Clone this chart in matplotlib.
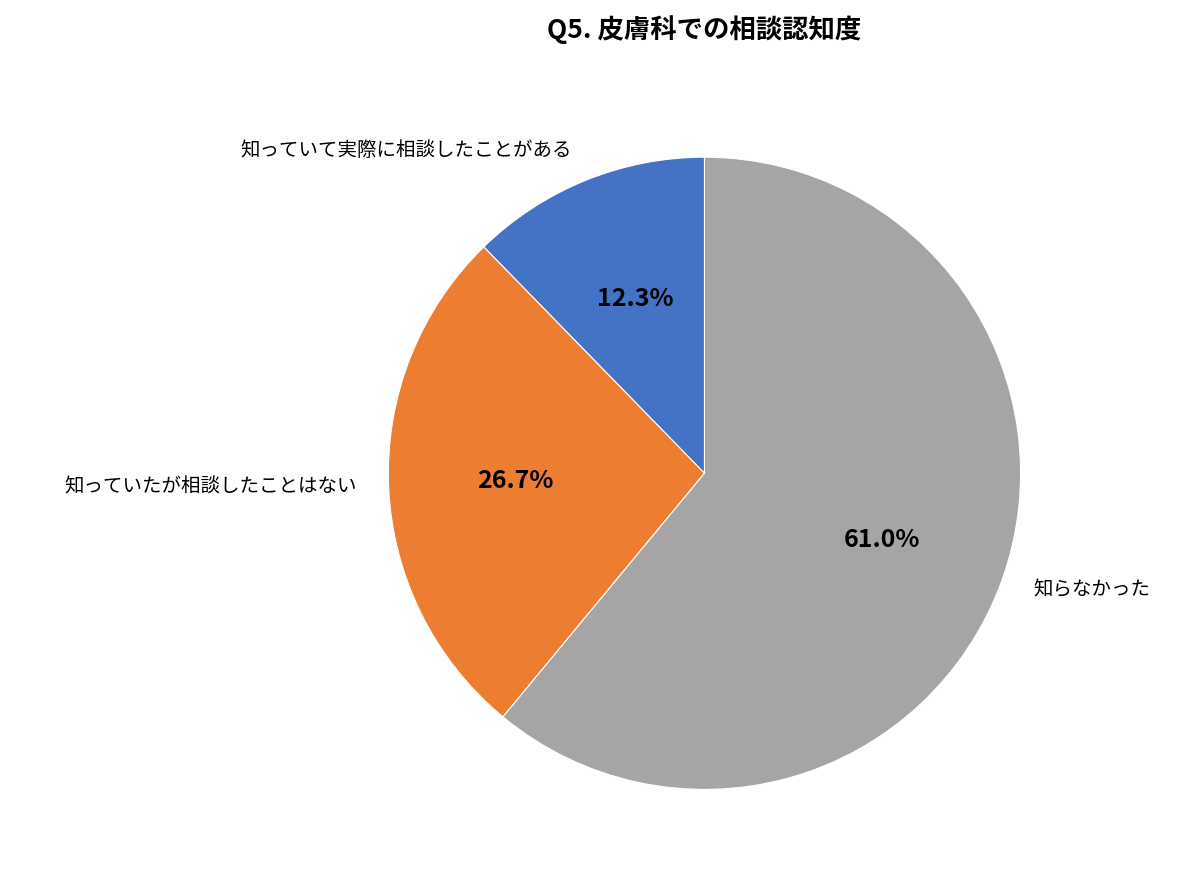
import matplotlib
matplotlib.use("Agg")
import matplotlib.pyplot as plt

plt.rcParams['font.family'] = ['Noto Sans CJK JP', 'DejaVu Sans']

labels = ["知っていて実際に相談したことがある", "知っていたが相談したことはない", "知らなかった"]
values = [12.3, 26.7, 61.0]
colors = ["#4472C4", "#ED7D31", "#A5A5A5"]

fig = plt.figure(figsize=(11.84, 8.83), dpi=100)
ax = fig.add_axes([0.595 - 0.267, 0.464 - 0.358, 0.534, 0.716])
wedges, texts, autotexts = ax.pie(values, labels=labels, colors=colors, startangle=90,
                                  counterclock=True, autopct="%.1f%%",
                                  wedgeprops=dict(edgecolor="white", linewidth=0.8),
                                  textprops=dict(fontsize=14))
ax.set_xlim(-1, 1)
ax.set_ylim(-1, 1)
ax.set_aspect("equal")
label_pos = [(-0.42, 1.02, "right"), (-1.10, -0.044, "right"), (1.04, -0.37, "left")]
for t, (x, y, ha) in zip(texts, label_pos):
    t.set_position((x, y)); t.set_ha(ha); t.set_va("center")
pct_pos = [(-0.22, 0.55), (-0.60, -0.025), (0.56, -0.21)]
for t, (x, y) in zip(autotexts, pct_pos):
    t.set_position((x, y)); t.set_fontsize(18); t.set_fontweight("bold")
    t.set_ha("center"); t.set_va("center")

fig.text(0.595, 0.966, "Q5. 皮膚科での相談認知度", ha="center", va="center",
         fontsize=19, fontweight="bold")
fig.savefig("out.png", dpi=100, facecolor="white")
